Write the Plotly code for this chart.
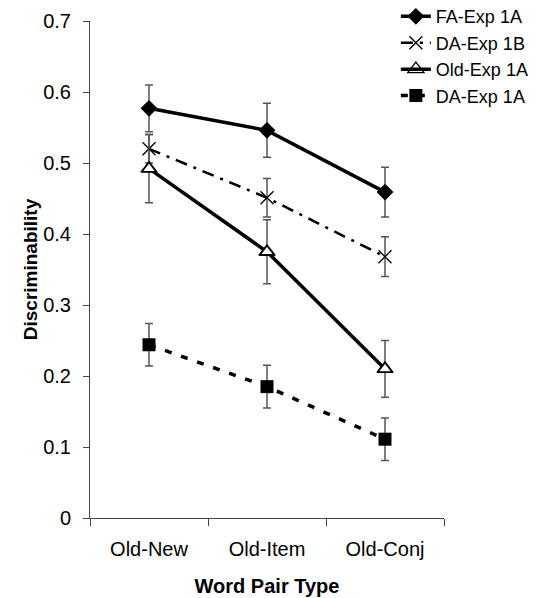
import plotly.graph_objects as go

categories = ["Old-New", "Old-Item", "Old-Conj"]

fa_exp1a = [0.577, 0.546, 0.459]
fa_exp1a_err = [0.033, 0.038, 0.035]

da_exp1b = [0.520, 0.451, 0.368]
da_exp1b_err = [0.020, 0.027, 0.028]

old_exp1a = [0.492, 0.375, 0.210]
old_exp1a_err = [0.048, 0.045, 0.040]

da_exp1a = [0.244, 0.185, 0.111]
da_exp1a_err = [0.030, 0.030, 0.030]

y_ticks = [0, 0.1, 0.2, 0.3, 0.4, 0.5, 0.6, 0.7]
y_ticktext = ["0", "0.1", "0.2", "0.3", "0.4", "0.5", "0.6", "0.7"]

FONT = "Liberation Sans, Arial, Helvetica, sans-serif"
ERR = dict(type="data", thickness=1.5, width=4, color="#555555")

fig = go.Figure()

series = [
    ("FA-Exp 1A", fa_exp1a, fa_exp1a_err, dict(width=3.5, dash="solid"),
     dict(symbol="diamond", size=13, color="black")),
    ("DA-Exp 1B", da_exp1b, da_exp1b_err, dict(width=2.5, dash="12px,7px,3px,7px"),
     dict(symbol="x-thin", size=13, color="black", line=dict(width=1.3, color="black"))),
    ("Old-Exp 1A", old_exp1a, old_exp1a_err, dict(width=3.5, dash="solid"),
     dict(symbol="triangle-up-open", size=14, color="black", line=dict(width=1.3, color="black"))),
    ("DA-Exp 1A", da_exp1a, da_exp1a_err, dict(width=3.5, dash="7px,10px"),
     dict(symbol="square", size=13, color="black")),
]

for name, vals, errs, line, marker in series:
    fig.add_trace(go.Scatter(
        x=categories, y=vals, name=name, mode="lines+markers",
        line=dict(color="black", **line),
        marker=marker,
        error_y=dict(array=errs, **ERR),
    ))

# white fill inside open triangles
fig.add_trace(go.Scatter(
    x=categories, y=old_exp1a, mode="markers", showlegend=False, hoverinfo="skip",
    marker=dict(symbol="triangle-up", size=12, color="white",
                line=dict(width=1.3, color="black")),
))

fig.update_layout(
    width=538, height=598,
    margin=dict(l=90, r=94, t=21, b=80, autoexpand=False),
    paper_bgcolor="white", plot_bgcolor="white",
    font=dict(family=FONT, size=20, color="black"),
    showlegend=True,
    legend=dict(
        x=0.864, y=1.046, xanchor="left", yanchor="top",
        bgcolor="rgba(255,255,255,0)",
        font=dict(family=FONT, size=18, color="black"),
        tracegroupgap=0,
    ),
    xaxis=dict(
        type="category", range=[-0.5, 2.5],
        tickson="boundaries", ticks="outside", ticklen=7, tickwidth=1,
        tickcolor="#444", showline=True, linecolor="#444", linewidth=1,
        showgrid=False, zeroline=False,
        tickfont=dict(size=20), ticklabelstandoff=13,
        title=dict(text="<b>Word Pair Type</b>", font=dict(size=20), standoff=19),
    ),
    yaxis=dict(
        range=[0, 0.7], tickvals=y_ticks, ticktext=y_ticktext,
        ticks="outside", ticklen=6, tickwidth=1, tickcolor="#444",
        showline=True, linecolor="#444", linewidth=1,
        showgrid=False, zeroline=False,
        tickfont=dict(size=20), ticklabelstandoff=8,
        title=dict(text="<b>Discriminability</b>", font=dict(size=19), standoff=0),
    ),
)

fig.write_html(
    "out.html",
    config={"displayModeBar": False},
    post_script="document.body.style.margin='0px';document.body.style.overflow='hidden';",
)
